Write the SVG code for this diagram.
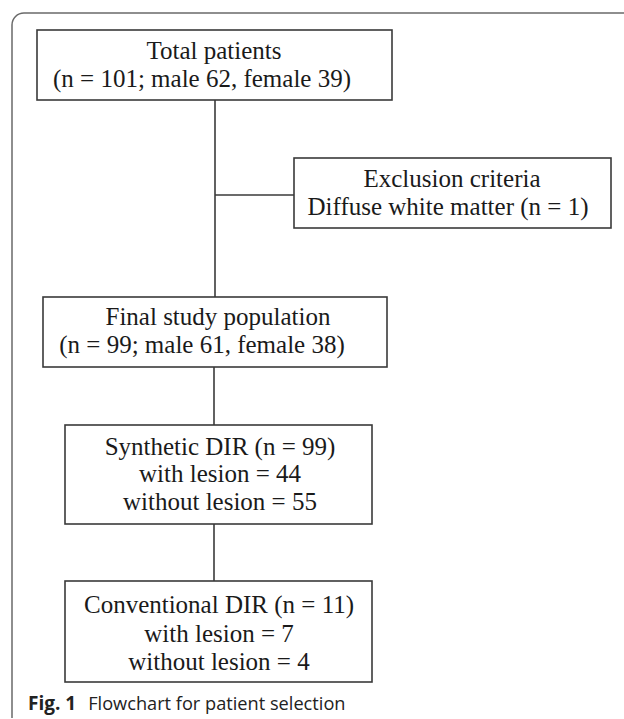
<svg xmlns="http://www.w3.org/2000/svg" width="624" height="719" viewBox="0 0 624 719">
<style>
.box{fill:#fff;stroke:#3a3a3a;stroke-width:1.6}
.t{font-family:"Liberation Serif","Times New Roman",serif;font-size:25px;fill:#1a1a1a;text-anchor:middle}
.c{stroke:#3a3a3a;stroke-width:1.6;fill:none}
.cap{font-family:"Open Sans","Noto Sans",sans-serif;fill:#222}
</style>
<rect width="624" height="719" fill="#fff"/>
<path d="M12,718 V25 A12,12 0 0 1 24,13 H624" fill="none" stroke="#6a6a6a" stroke-width="1.5"/>
<g id="connectors">
<line class="c" x1="215" y1="100" x2="215" y2="297"/>
<line class="c" x1="215" y1="195" x2="294" y2="195"/>
<line class="c" x1="214" y1="367" x2="214" y2="425"/>
<line class="c" x1="214" y1="524" x2="214" y2="581"/>
</g>
<g id="total">
<rect class="box" x="37" y="30" width="355" height="70"/>
<text class="t" x="214" y="59">Total patients</text>
<text class="t" x="202" y="87">(n = 101; male 62, female 39)</text>
</g>
<g id="exclusion">
<rect class="box" x="294" y="158" width="317" height="70"/>
<text class="t" x="452" y="187">Exclusion criteria</text>
<text class="t" x="448" y="215">Diffuse white matter (n = 1)</text>
</g>
<g id="final">
<rect class="box" x="43" y="297" width="344" height="70"/>
<text class="t" x="218" y="325">Final study population</text>
<text class="t" x="202" y="353">(n = 99; male 61, female 38)</text>
</g>
<g id="synthetic">
<rect class="box" x="65" y="425" width="307" height="99"/>
<text class="t" x="220" y="455">Synthetic DIR (n = 99)</text>
<text class="t" x="220" y="482">with lesion = 44</text>
<text class="t" x="220" y="510">without lesion = 55</text>
</g>
<g id="conventional">
<rect class="box" x="65" y="581" width="307" height="101"/>
<text class="t" x="219" y="613">Conventional DIR (n = 11)</text>
<text class="t" x="219" y="642">with lesion = 7</text>
<text class="t" x="219" y="670">without lesion = 4</text>
</g>
<text class="cap" x="28" y="710"><tspan font-weight="bold" font-size="19">Fig. 1</tspan><tspan dx="12" font-size="18.2">Flowchart for patient selection</tspan></text>
</svg>
